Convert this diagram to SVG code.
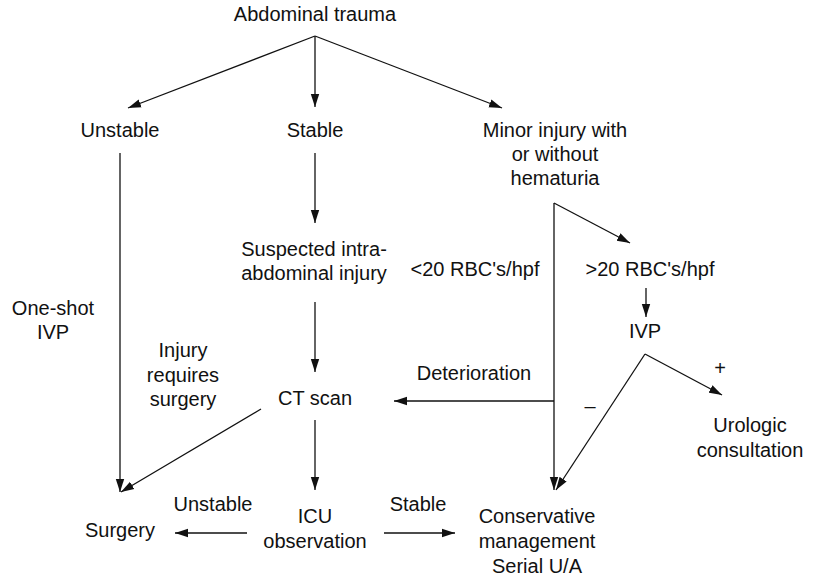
<svg xmlns="http://www.w3.org/2000/svg" width="819" height="578" viewBox="0 0 819 578">
  <style>
    text { font-family: "Liberation Sans", Arial, sans-serif; font-size: 20px; fill: #111; text-anchor: middle; }
    .edge { stroke: #111; stroke-width: 1.3; fill: none; }
    .arr { marker-end: url(#head); }
  </style>
  <defs>
    <marker id="head" markerUnits="userSpaceOnUse" markerWidth="14" markerHeight="10" refX="13" refY="5" orient="auto">
      <path d="M0,0.8 L13,5 L0,9.2 Z" fill="#111"/>
    </marker>
  </defs>
  <rect width="819" height="578" fill="#fff"/>

  <g id="connectors">
    <!-- from Abdominal trauma -->
    <line class="edge arr" x1="315" y1="36" x2="128" y2="108"/>
    <line class="edge arr" x1="315" y1="36" x2="315" y2="107"/>
    <line class="edge arr" x1="315" y1="36" x2="502" y2="108"/>
    <!-- Unstable to Surgery -->
    <line class="edge arr" x1="120" y1="153" x2="120" y2="492"/>
    <!-- Stable chain -->
    <line class="edge arr" x1="315" y1="153" x2="315" y2="223"/>
    <line class="edge arr" x1="315" y1="302" x2="315" y2="372"/>
    <line class="edge arr" x1="261" y1="409" x2="121" y2="492"/>
    <line class="edge arr" x1="315" y1="420" x2="315" y2="490"/>
    <!-- ICU observation -->
    <line class="edge arr" x1="247" y1="533" x2="175" y2="533"/>
    <line class="edge arr" x1="384" y1="533" x2="455" y2="533"/>
    <!-- Minor injury branch -->
    <line class="edge arr" x1="554" y1="203" x2="554" y2="490"/>
    <line class="edge arr" x1="554" y1="203" x2="630" y2="243"/>
    <line class="edge arr" x1="554" y1="401" x2="394" y2="401"/>
    <line class="edge arr" x1="646" y1="288" x2="646" y2="317"/>
    <line class="edge arr" x1="645" y1="354" x2="722" y2="395"/>
    <line class="edge arr" x1="645" y1="354" x2="556" y2="490"/>
  </g>

  <g id="abdominal-trauma"><text x="315" y="21">Abdominal trauma</text></g>
  <g id="unstable"><text x="120" y="137">Unstable</text></g>
  <g id="stable"><text x="315" y="137">Stable</text></g>
  <g id="minor-injury">
    <text x="555" y="137">Minor injury with</text>
    <text x="555" y="161">or without</text>
    <text x="555" y="185">hematuria</text>
  </g>
  <g id="suspected">
    <text x="314" y="256">Suspected intra-</text>
    <text x="314" y="280">abdominal injury</text>
  </g>
  <g id="one-shot-ivp">
    <text x="53" y="315">One-shot</text>
    <text x="53" y="339">IVP</text>
  </g>
  <g id="injury-requires-surgery">
    <text x="183" y="357">Injury</text>
    <text x="183" y="382">requires</text>
    <text x="183" y="406">surgery</text>
  </g>
  <g id="ct-scan"><text x="315" y="405">CT scan</text></g>
  <g id="lt20"><text x="475" y="276">&lt;20 RBC's/hpf</text></g>
  <g id="gt20"><text x="650" y="276">&gt;20 RBC's/hpf</text></g>
  <g id="ivp"><text x="645" y="338">IVP</text></g>
  <g id="deterioration"><text x="474" y="380">Deterioration</text></g>
  <g id="plus"><text x="720" y="375">+</text></g>
  <g id="minus"><text x="590" y="413">–</text></g>
  <g id="urologic">
    <text x="750" y="432">Urologic</text>
    <text x="750" y="457">consultation</text>
  </g>
  <g id="surgery"><text x="120" y="537">Surgery</text></g>
  <g id="unstable-label"><text x="213" y="511">Unstable</text></g>
  <g id="icu">
    <text x="315" y="523">ICU</text>
    <text x="315" y="548">observation</text>
  </g>
  <g id="stable-label"><text x="418" y="511">Stable</text></g>
  <g id="conservative">
    <text x="537" y="523">Conservative</text>
    <text x="537" y="548">management</text>
    <text x="537" y="573">Serial U/A</text>
  </g>
</svg>
